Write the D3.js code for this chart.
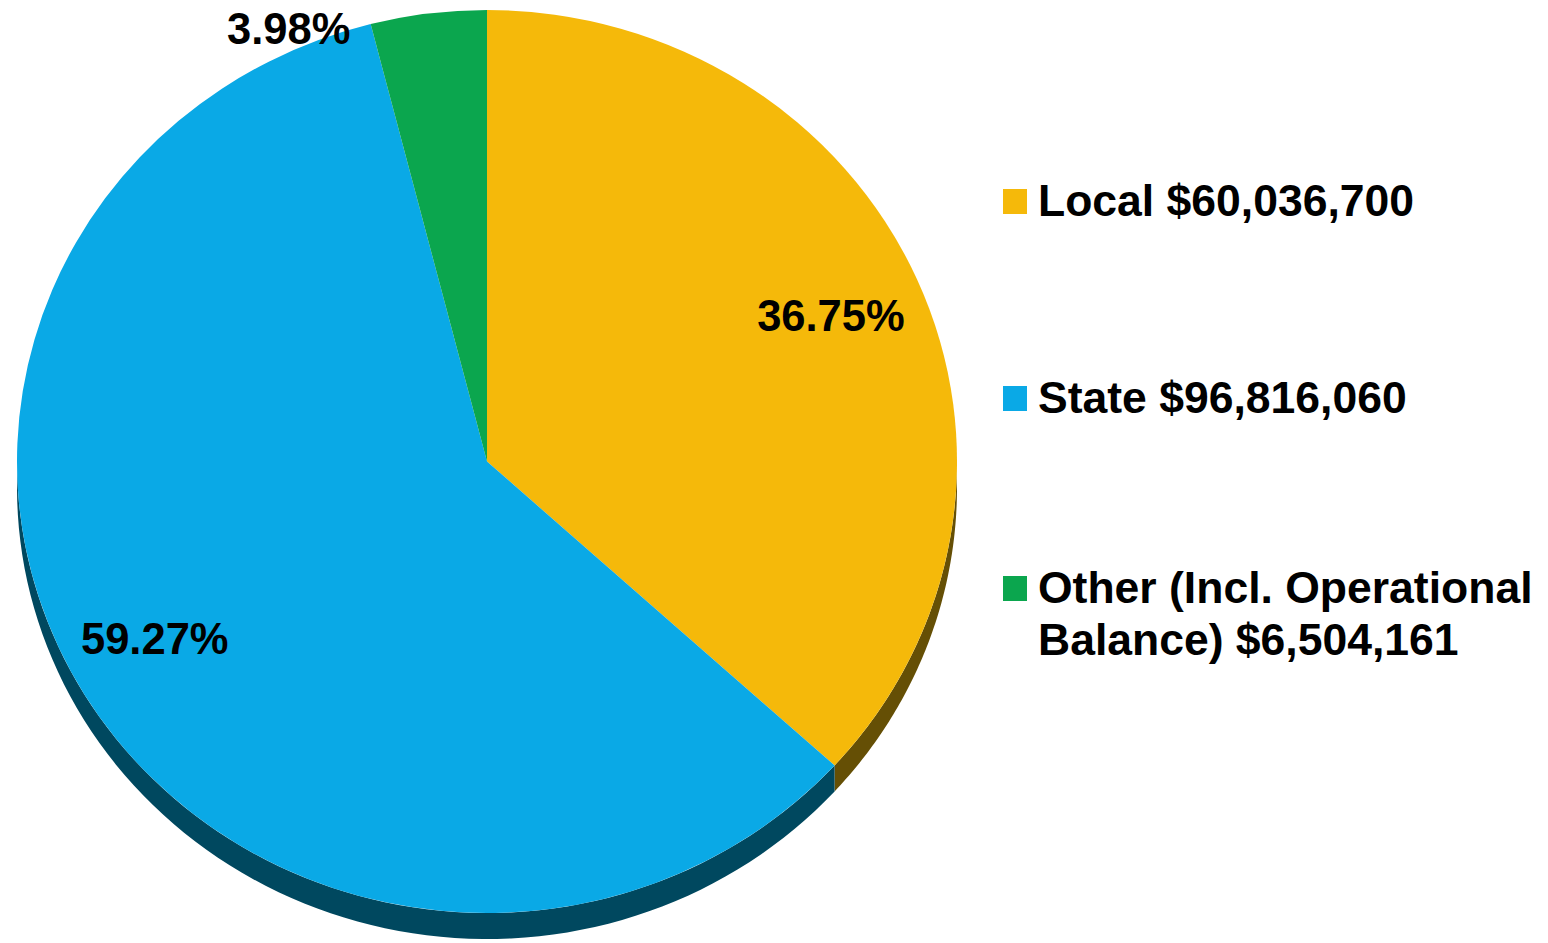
<!DOCTYPE html>
<html>
<head>
<meta charset="utf-8">
<script src="https://cdn.jsdelivr.net/npm/d3@7"></script>
<style>
  body { margin: 0; background: #fff; }
  svg { display: block; }
  text { font-family: "Liberation Sans", Arial, sans-serif; font-weight: bold; fill: #000; }
</style>
</head>
<body>
<svg id="chart"></svg>
<script>
// Revenue sources
const categories = ["Local", "State", "Other"];
const amounts = [60036700, 96816060, 6504161];
const percentLabels = ["36.75%", "59.27%", "3.98%"];
const legendLines = [
    ["Local $60,036,700"],
    ["State $96,816,060"],
    ["Other (Incl. Operational", "Balance) $6,504,161"]
];
const faceColors = ["#F5B90A", "#0AA9E6", "#0BA64E"];
const sideColors = ["#654F05", "#00485F", "#05502A"];

const width = 1548, height = 943;
const cx = 487, cy = 461.5, rx = 470, ry = 451.5, depth = 26;

const svg = d3.select("#chart")
    .attr("width", width)
    .attr("height", height);

const pie = d3.pie().sort(null).value(d => d.value);
const arcs = pie(categories.map((c, i) => ({ name: c, value: amounts[i], i: i })));

// point on the tilted face ellipse, angle clockwise from 12 o'clock
const pt = (a, dy) => [cx + rx * Math.sin(a), cy - ry * Math.cos(a) + (dy || 0)];

// side walls (only the front half, pi/2 .. 3pi/2, is visible)
const sides = svg.append("g");
arcs.forEach(d => {
    const s = Math.max(d.startAngle, Math.PI / 2);
    const e = Math.min(d.endAngle, 3 * Math.PI / 2);
    if (e <= s) return;
    const n = 80;
    const top = d3.range(n + 1).map(k => pt(s + (e - s) * k / n));
    const bot = d3.range(n + 1).map(k => pt(e - (e - s) * k / n, depth));
    sides.append("path")
        .attr("d", d3.line()(top.concat(bot)) + "Z")
        .attr("fill", sideColors[d.data.i]);
});

// pie faces: circular arc squashed into the ellipse
const arc = d3.arc().innerRadius(0).outerRadius(rx);
svg.append("g")
    .attr("transform", `translate(${cx},${cy}) scale(1,${ry / rx})`)
    .selectAll("path")
    .data(arcs)
    .join("path")
    .attr("d", arc)
    .attr("fill", d => faceColors[d.data.i]);

// percentage labels (State label sits a little up-left of its centroid, like the original)
const labelNudge = { State: [-10, -9] };
arcs.forEach(d => {
    const mid = (d.startAngle + d.endAngle) / 2;
    const t = svg.append("text")
        .style("font-size", "43.5px")
        .text(percentLabels[d.data.i]);
    if (d.endAngle - d.startAngle > 0.5) {
        const nd = labelNudge[d.data.name] || [0, 0];
        const p = [cx + 0.8 * rx * Math.sin(mid), cy - 0.8 * ry * Math.cos(mid)];
        t.attr("x", p[0] + nd[0]).attr("y", p[1] + nd[1]).attr("dy", "0.36em")
            .attr("text-anchor", "middle");
    } else {
        // small slice: label sits outside, to the left of the slice top
        const p = pt(mid);
        t.attr("x", p[0] - 78).attr("y", p[1] + 30)
            .attr("text-anchor", "end");
    }
});

// legend
const legend = svg.append("g").attr("transform", "translate(1003,0)");
const legendY = [216, 413, 603];
legendLines.forEach((lines, i) => {
    const g = legend.append("g").attr("transform", `translate(0,${legendY[i]})`);
    g.append("rect")
        .attr("x", 0).attr("y", -27)
        .attr("width", 24).attr("height", 25)
        .attr("fill", faceColors[i]);
    const t = g.append("text")
        .attr("x", 35)
        .style("font-size", "44.5px");
    lines.forEach((ln, k) => {
        t.append("tspan").attr("x", 35).attr("y", k * 52).text(ln);
    });
});
</script>
</body>
</html>
